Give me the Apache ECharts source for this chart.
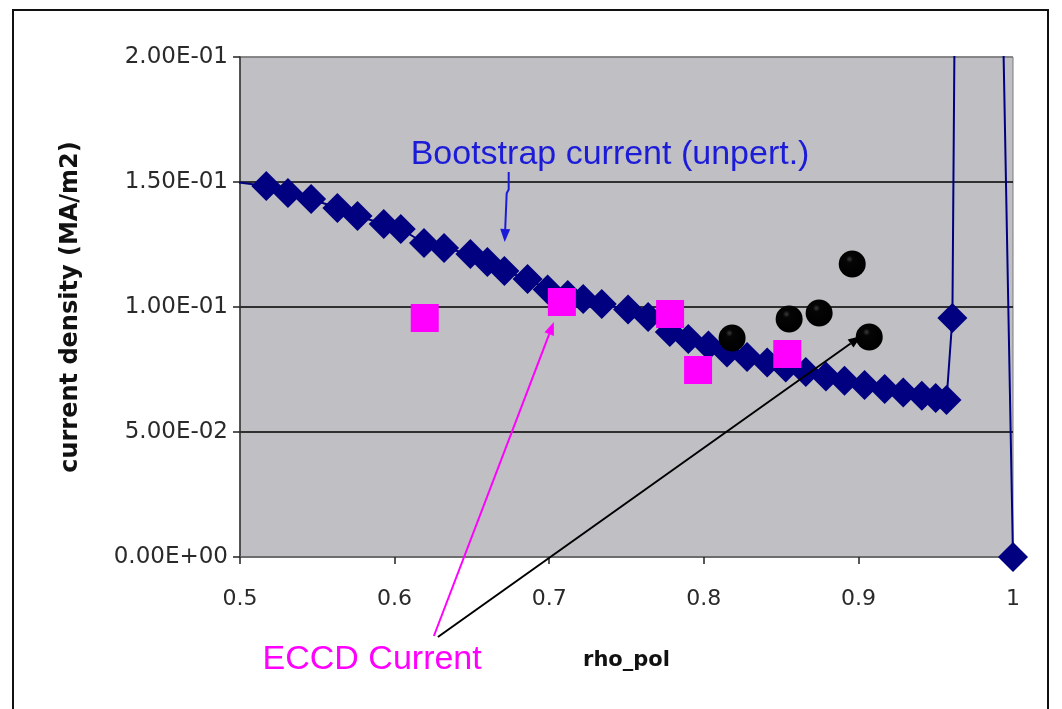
<!DOCTYPE html>
<html>
<head>
<meta charset="utf-8">
<title>current density vs rho_pol</title>
<script src="https://cdn.jsdelivr.net/npm/echarts@6/dist/echarts.min.js"></script>
<style>
  html, body { margin: 0; padding: 0; background: #ffffff; }
  #chart { width: 1062px; height: 709px; }
</style>
</head>
<body>
<div id="chart"></div>
<script>
// Bootstrap current profile (unperturbed), rho_pol vs current density in MA/m2
const rhoBoot = [0.490, 0.517, 0.531, 0.546, 0.563, 0.576, 0.593, 0.604, 0.619, 0.632, 0.649,
                 0.660, 0.671, 0.686, 0.699, 0.712, 0.722, 0.734, 0.751, 0.764, 0.778,
                 0.790, 0.803, 0.815, 0.828, 0.841, 0.853, 0.866, 0.879, 0.891, 0.904,
                 0.917, 0.929, 0.941, 0.950, 0.957, 0.9608, 0.970, 0.990, 1.000];
const jBoot   = [0.1505, 0.1484, 0.1456, 0.1432, 0.1396, 0.1364, 0.1332, 0.1312, 0.1256, 0.1236, 0.1212,
                 0.1180, 0.1144, 0.1112, 0.1070, 0.1048, 0.1032, 0.1012, 0.0990, 0.0960, 0.0900,
                 0.0872, 0.0846, 0.0818, 0.0800, 0.0778, 0.0758, 0.0740, 0.0722, 0.0705, 0.0688,
                 0.0672, 0.0658, 0.0645, 0.0636, 0.0628, 0.0956, 0.8500, 0.3300, 0.0000];

// ECCD current, first set (squares)
const rhoEccdA = [0.6195, 0.7082, 0.7782, 0.7963, 0.8540];
const jEccdA   = [0.0956, 0.1020, 0.0972, 0.0748, 0.0812];

// ECCD current, second set (circles)
const rhoEccdB = [0.8183, 0.8552, 0.8746, 0.8960, 0.9070];
const jEccdB   = [0.0876, 0.0952, 0.0976, 0.1172, 0.0880];

// Axis ticks
const xTickLabels = ['0.5', '0.6', '0.7', '0.8', '0.9', '1'];
const yTickLabels = ['0.00E+00', '5.00E-02', '1.00E-01', '1.50E-01', '2.00E-01'];

const zip = (xs, ys) => xs.map((x, i) => [x, ys[i]]);

const chart = echarts.init(document.getElementById('chart'), null, { renderer: 'canvas' });

const tickFont = { fontFamily: 'DejaVu Sans', color: '#2a2a2a' };

chart.setOption({
  animation: false,
  backgroundColor: '#ffffff',
  grid: {
    left: 240, right: 49, top: 57, bottom: 152,
    show: true,
    backgroundColor: '#bfbfc4',
    borderColor: '#7a7a7a',
    borderWidth: 1
  },
  xAxis: {
    type: 'value',
    min: 0.5, max: 1.0, interval: 0.1,
    name: 'rho_pol',
    nameLocation: 'middle',
    nameGap: 93,
    nameTextStyle: { fontFamily: 'DejaVu Sans', fontWeight: 'bold', fontSize: 21, color: '#111' },
    axisLine: { show: true, onZero: false, lineStyle: { color: '#6a6a6a', width: 1.5 } },
    axisTick: { show: true, inside: false, length: 7, lineStyle: { color: '#222', width: 1.5 } },
    axisLabel: {
      margin: 31,
      fontSize: 22,
      ...tickFont,
      formatter: (v) => xTickLabels[Math.round((v - 0.5) / 0.1)]
    },
    splitLine: { show: false }
  },
  yAxis: {
    type: 'value',
    min: 0, max: 0.2, interval: 0.05,
    name: 'current density (MA/m2)',
    nameLocation: 'middle',
    nameRotate: 90,
    nameGap: 157,
    nameTextStyle: { fontFamily: 'DejaVu Sans', fontWeight: 'bold', fontSize: 24, color: '#111' },
    axisLine: { show: true, onZero: false, lineStyle: { color: '#333', width: 1.5 } },
    axisTick: { show: true, inside: false, length: 7, lineStyle: { color: '#222', width: 1.5 } },
    axisLabel: {
      margin: 12,
      fontSize: 23,
      ...tickFont,
      formatter: (v) => yTickLabels[Math.round(v / 0.05)]
    },
    splitLine: {
      show: true,
      lineStyle: { color: ['#6a6a6a', '#000000', '#000000', '#000000', '#7a7a7a'], width: 1.5 }
    }
  },
  series: [
    {
      name: 'Bootstrap current (unpert.)',
      type: 'line',
      data: zip(rhoBoot, jBoot),
      clip: true,
      symbol: 'diamond',
      symbolSize: 30,
      showAllSymbol: true,
      itemStyle: { color: '#000080', opacity: 1 },
      lineStyle: { color: '#000080', width: 2 },
      z: 2
    },
    {
      name: 'ECCD Current A',
      type: 'scatter',
      data: zip(rhoEccdA, jEccdA),
      symbol: 'rect',
      symbolSize: 28,
      itemStyle: { color: '#ff00ff', opacity: 1 },
      z: 10
    },
    {
      name: 'ECCD Current B',
      type: 'scatter',
      data: zip(rhoEccdB, jEccdB),
      symbol: 'circle',
      symbolSize: 27,
      itemStyle: {
        opacity: 1,
        color: {
          type: 'radial', x: 0.4, y: 0.32, r: 0.6,
          colorStops: [
            { offset: 0, color: '#3a3a3a' },
            { offset: 0.22, color: '#050505' },
            { offset: 1, color: '#000000' }
          ]
        }
      },
      z: 11
    }
  ]
});

// Annotations: labels and arrows, anchored in data space
const notes = {
  bootLabel: { at: [0.6104, 0.1608], text: 'Bootstrap current (unpert.)', color: '#1c1cd8' },
  bootArrow: { path: [[0.6738, 0.1540], [0.6738, 0.1470], [0.6725, 0.1455], [0.6712, 0.1260]], color: '#1c1cd8' },
  eccdLabel: { at: [0.5146, -0.0412], text: 'ECCD Current', color: '#ff00ff' },
  eccdArrowA: { path: [[0.6254, -0.0316], [0.7030, 0.0940]], color: '#ff00ff' },
  eccdArrowB: { path: [[0.6280, -0.0320], [0.9018, 0.0884]], color: '#000000' }
};

const px = (p) => chart.convertToPixel({ gridIndex: 0 }, p);

function arrow(pathData, color) {
  const pts = pathData.map(px);
  const tip = pts[pts.length - 1];
  const prev = pts[pts.length - 2];
  const dx = tip[0] - prev[0], dy = tip[1] - prev[1];
  const len = Math.hypot(dx, dy);
  const ux = dx / len, uy = dy / len;
  const headLen = 13, headHalf = 5;
  const base = [tip[0] - ux * headLen, tip[1] - uy * headLen];
  const linePts = pts.slice(0, -1).concat([base]);
  return [
    {
      type: 'polyline',
      shape: { points: linePts },
      style: { stroke: color, lineWidth: 2, fill: null },
      z: 100
    },
    {
      type: 'polygon',
      shape: {
        points: [
          tip,
          [base[0] - uy * headHalf, base[1] + ux * headHalf],
          [base[0] + uy * headHalf, base[1] - ux * headHalf]
        ]
      },
      style: { fill: color },
      z: 100
    }
  ];
}

function label(note, size) {
  const p = px(note.at);
  return {
    type: 'text',
    x: p[0], y: p[1],
    style: {
      text: note.text,
      fill: note.color,
      font: size + 'px "Liberation Sans", Arial, sans-serif',
      verticalAlign: 'middle',
      align: 'left'
    },
    z: 100
  };
}

chart.setOption({
  graphic: [
    // outer chart frame
    {
      type: 'rect',
      shape: { x: 13, y: 10, width: 1035, height: 720 },
      style: { fill: null, stroke: '#111', lineWidth: 2 },
      z: 0, silent: true
    },
    label(notes.bootLabel, 34),
    ...arrow(notes.bootArrow.path, notes.bootArrow.color),
    label(notes.eccdLabel, 34),
    ...arrow(notes.eccdArrowA.path, notes.eccdArrowA.color),
    ...arrow(notes.eccdArrowB.path, notes.eccdArrowB.color)
  ]
});
</script>
</body>
</html>
